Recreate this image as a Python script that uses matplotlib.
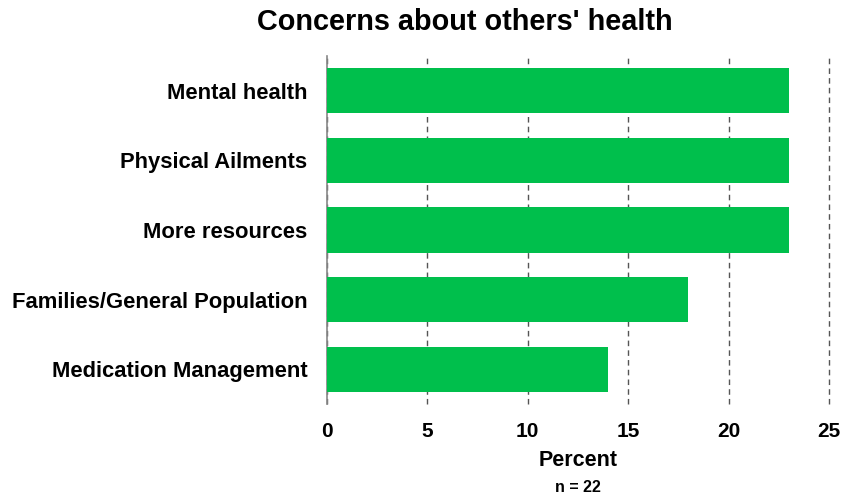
import matplotlib
matplotlib.use("Agg")
import matplotlib.pyplot as plt

categories = ["Mental health", "Physical Ailments", "More resources",
              "Families/General Population", "Medication Management"]
percent = [23, 23, 23, 18, 14]
x_ticks = [0, 5, 10, 15, 20, 25]
title = "Concerns about others' health"
x_label = "Percent"
n_note = "n = 22"

plt.rcParams["font.family"] = ["Liberation Sans", "DejaVu Sans"]
plt.rcParams["font.weight"] = "bold"

fig = plt.figure(figsize=(8.54, 4.96), dpi=100)
ax = fig.add_axes([327 / 854, 1 - 404 / 496, (829 - 327) / 854, (404 - 56) / 496])

y = list(range(len(categories)))
ax.barh(y, percent, height=0.65, color="#00bf4c", zorder=3)
ax.set_ylim(len(categories) - 0.5, -0.5)
ax.set_xlim(0, 25)

ax.set_yticks(y)
ax.set_yticklabels(categories, fontsize=15.8, fontweight="bold")
ax.set_xticks(x_ticks)
ax.set_xticklabels([str(t) for t in x_ticks], fontsize=15, fontweight="bold")
ax.tick_params(axis="y", length=0, pad=14)
ax.tick_params(axis="x", length=0, pad=13)

ax.xaxis.grid(True, linestyle=(0, (4, 3)), color="#555555", linewidth=1.0, zorder=0)
for gl in ax.xaxis.get_gridlines():
    gl.set_clip_on(False)
for side in ("top", "right", "bottom"):
    ax.spines[side].set_visible(False)
ax.spines["left"].set_color("#888888")
ax.spines["left"].set_linewidth(1.2)

fig.text(578 / 854, 1 - 460 / 496, x_label, ha="center", va="center",
         fontsize=15.5, fontweight="bold")
fig.text(578 / 854, 1 - 487 / 496, n_note, ha="center", va="center",
         fontsize=11.5, fontweight="bold")
fig.text(465 / 854, 1 - 22 / 496, title, ha="center", va="center",
         fontsize=20.8, fontweight="bold")

fig.savefig("out.png", dpi=100)
